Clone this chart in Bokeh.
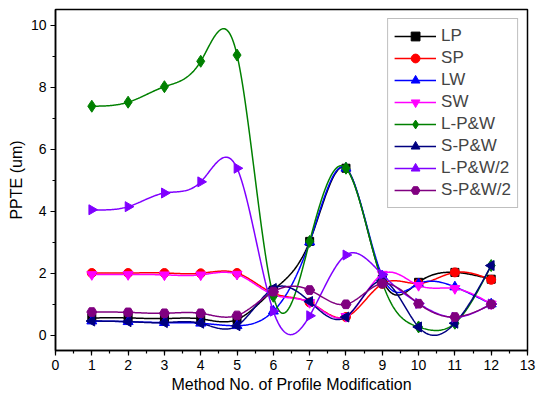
import numpy as np
from bokeh.plotting import figure
from bokeh.models import Legend, LegendItem, SingleIntervalTicker, Range1d
from bokeh.embed import file_html
from bokeh.resources import INLINE

x = [1, 2, 3, 4, 5, 6, 7, 8, 9, 10, 11, 12]
LP = [0.55, 0.55, 0.53, 0.52, 0.50, 1.45, 3.02, 5.38, 1.80, 1.70, 2.02, 1.80]
SP = [2.00, 2.00, 2.00, 1.99, 2.00, 1.35, 1.05, 0.58, 1.65, 1.66, 2.02, 1.78]
LW = [0.45, 0.43, 0.40, 0.38, 0.30, 0.77, 3.00, 5.38, 1.90, 1.65, 1.55, 1.00]
SW = [1.95, 1.95, 1.94, 1.94, 1.96, 1.30, 1.05, 0.60, 1.96, 1.60, 1.50, 1.00]
LPW = [7.38, 7.51, 8.01, 8.83, 9.03, 1.25, 3.02, 5.38, 1.70, 0.26, 0.38, 2.24]
SPW = [0.45, 0.43, 0.40, 0.38, 0.30, 1.50, 1.08, 0.58, 1.75, 0.26, 0.38, 2.24]
LPW2 = [4.04, 4.14, 4.58, 4.94, 5.38, 0.77, 0.62, 2.58, 1.95, 1.02, 0.57, 1.00]
SPW2 = [0.74, 0.73, 0.70, 0.70, 0.63, 1.40, 1.45, 0.99, 1.66, 1.01, 0.58, 0.99]

labels = ["LP", "SP", "LW", "SW", "L-P&W", "S-P&W", "L-P&W/2", "S-P&W/2"]
series = [LP, SP, LW, SW, LPW, SPW, LPW2, SPW2]
colors = ["#000000", "#FF0000", "#0000FF", "#FF00FF", "#008000", "#000080", "#8000FF", "#800080"]
markers = ["square", "circle", "triangle", "inverted_triangle", "diamond", "triangle", "triangle", "hex"]
angles = [0.0, 0.0, 0.0, 0.0, 0.0, np.pi / 2, -np.pi / 2, 0.0]
sizes = [8, 9, 10, 10, 12, 10, 10, 10]


def natural_spline(xs, ys, per=40):
    xs = np.asarray(xs, float)
    ys = np.asarray(ys, float)
    n = len(xs)
    h = np.diff(xs)
    A = np.zeros((n, n))
    b = np.zeros(n)
    A[0, 0] = 1
    A[-1, -1] = 1
    for i in range(1, n - 1):
        A[i, i - 1] = h[i - 1]
        A[i, i] = 2 * (h[i - 1] + h[i])
        A[i, i + 1] = h[i]
        b[i] = 6 * ((ys[i + 1] - ys[i]) / h[i] - (ys[i] - ys[i - 1]) / h[i - 1])
    M = np.linalg.solve(A, b)
    xx, yy = [], []
    for i in range(n - 1):
        t = np.linspace(xs[i], xs[i + 1], per, endpoint=(i == n - 2))
        a = xs[i + 1] - t
        c = t - xs[i]
        s = (M[i] * a ** 3 + M[i + 1] * c ** 3) / (6 * h[i]) \
            + (ys[i] / h[i] - M[i] * h[i] / 6) * a \
            + (ys[i + 1] / h[i] - M[i + 1] * h[i] / 6) * c
        xx.extend(t)
        yy.extend(s)
    return xx, yy


p = figure(width=542, height=396, output_backend="svg", toolbar_location=None,
           x_range=Range1d(0, 13), y_range=Range1d(-0.5, 10.5),
           min_border_left=55, min_border_right=15, min_border_top=9, min_border_bottom=46)
p.xgrid.visible = False
p.ygrid.visible = False
p.outline_line_color = "black"
p.outline_line_width = 1.5
p.background_fill_color = "white"
p.border_fill_color = "white"

p.xaxis.ticker = SingleIntervalTicker(interval=1, num_minor_ticks=2)
p.yaxis.ticker = SingleIntervalTicker(interval=2, num_minor_ticks=2)
p.xaxis.axis_label = "Method No. of Profile Modification"
p.yaxis.axis_label = "PPTE (um)"
for ax in (p.xaxis[0], p.yaxis[0]):
    ax.axis_line_width = 1.5
    ax.axis_line_color = "black"
    ax.major_tick_line_color = "black"
    ax.minor_tick_line_color = "black"
    ax.major_tick_line_width = 1.2
    ax.minor_tick_line_width = 1.2
    ax.major_tick_out = 5
    ax.major_tick_in = 0
    ax.minor_tick_out = 3
    ax.minor_tick_in = 0
    ax.major_label_text_font = "Liberation Sans"
    ax.major_label_text_font_size = "14px"
    ax.major_label_text_color = "black"
    ax.axis_label_text_font = "Liberation Sans"
    ax.axis_label_text_font_size = "16px"
    ax.axis_label_text_font_style = "normal"
    ax.axis_label_text_color = "black"
    ax.major_label_standoff = 4
    ax.axis_label_standoff = 3

items = []
for lab, ys, col, mk, ang, sz in zip(labels, series, colors, markers, angles, sizes):
    sx, sy = natural_spline(x, ys)
    lr = p.line(sx, sy, line_color=col, line_width=1.5)
    sr = p.scatter(x, ys, marker=mk, size=sz, angle=ang,
                   fill_color=col, line_color=col)
    items.append(LegendItem(label=lab, renderers=[lr, sr]))

legend = Legend(items=items, location="top_right", margin=9, padding=6,
                spacing=0, glyph_width=42, glyph_height=22, label_height=22,
                label_standoff=5, label_text_font="Liberation Sans",
                label_text_font_size="17px", border_line_color="#808080",
                border_line_width=1, background_fill_color="white",
                background_fill_alpha=1)
p.add_layout(legend)

open("out.html", "w").write(file_html(p, INLINE))
